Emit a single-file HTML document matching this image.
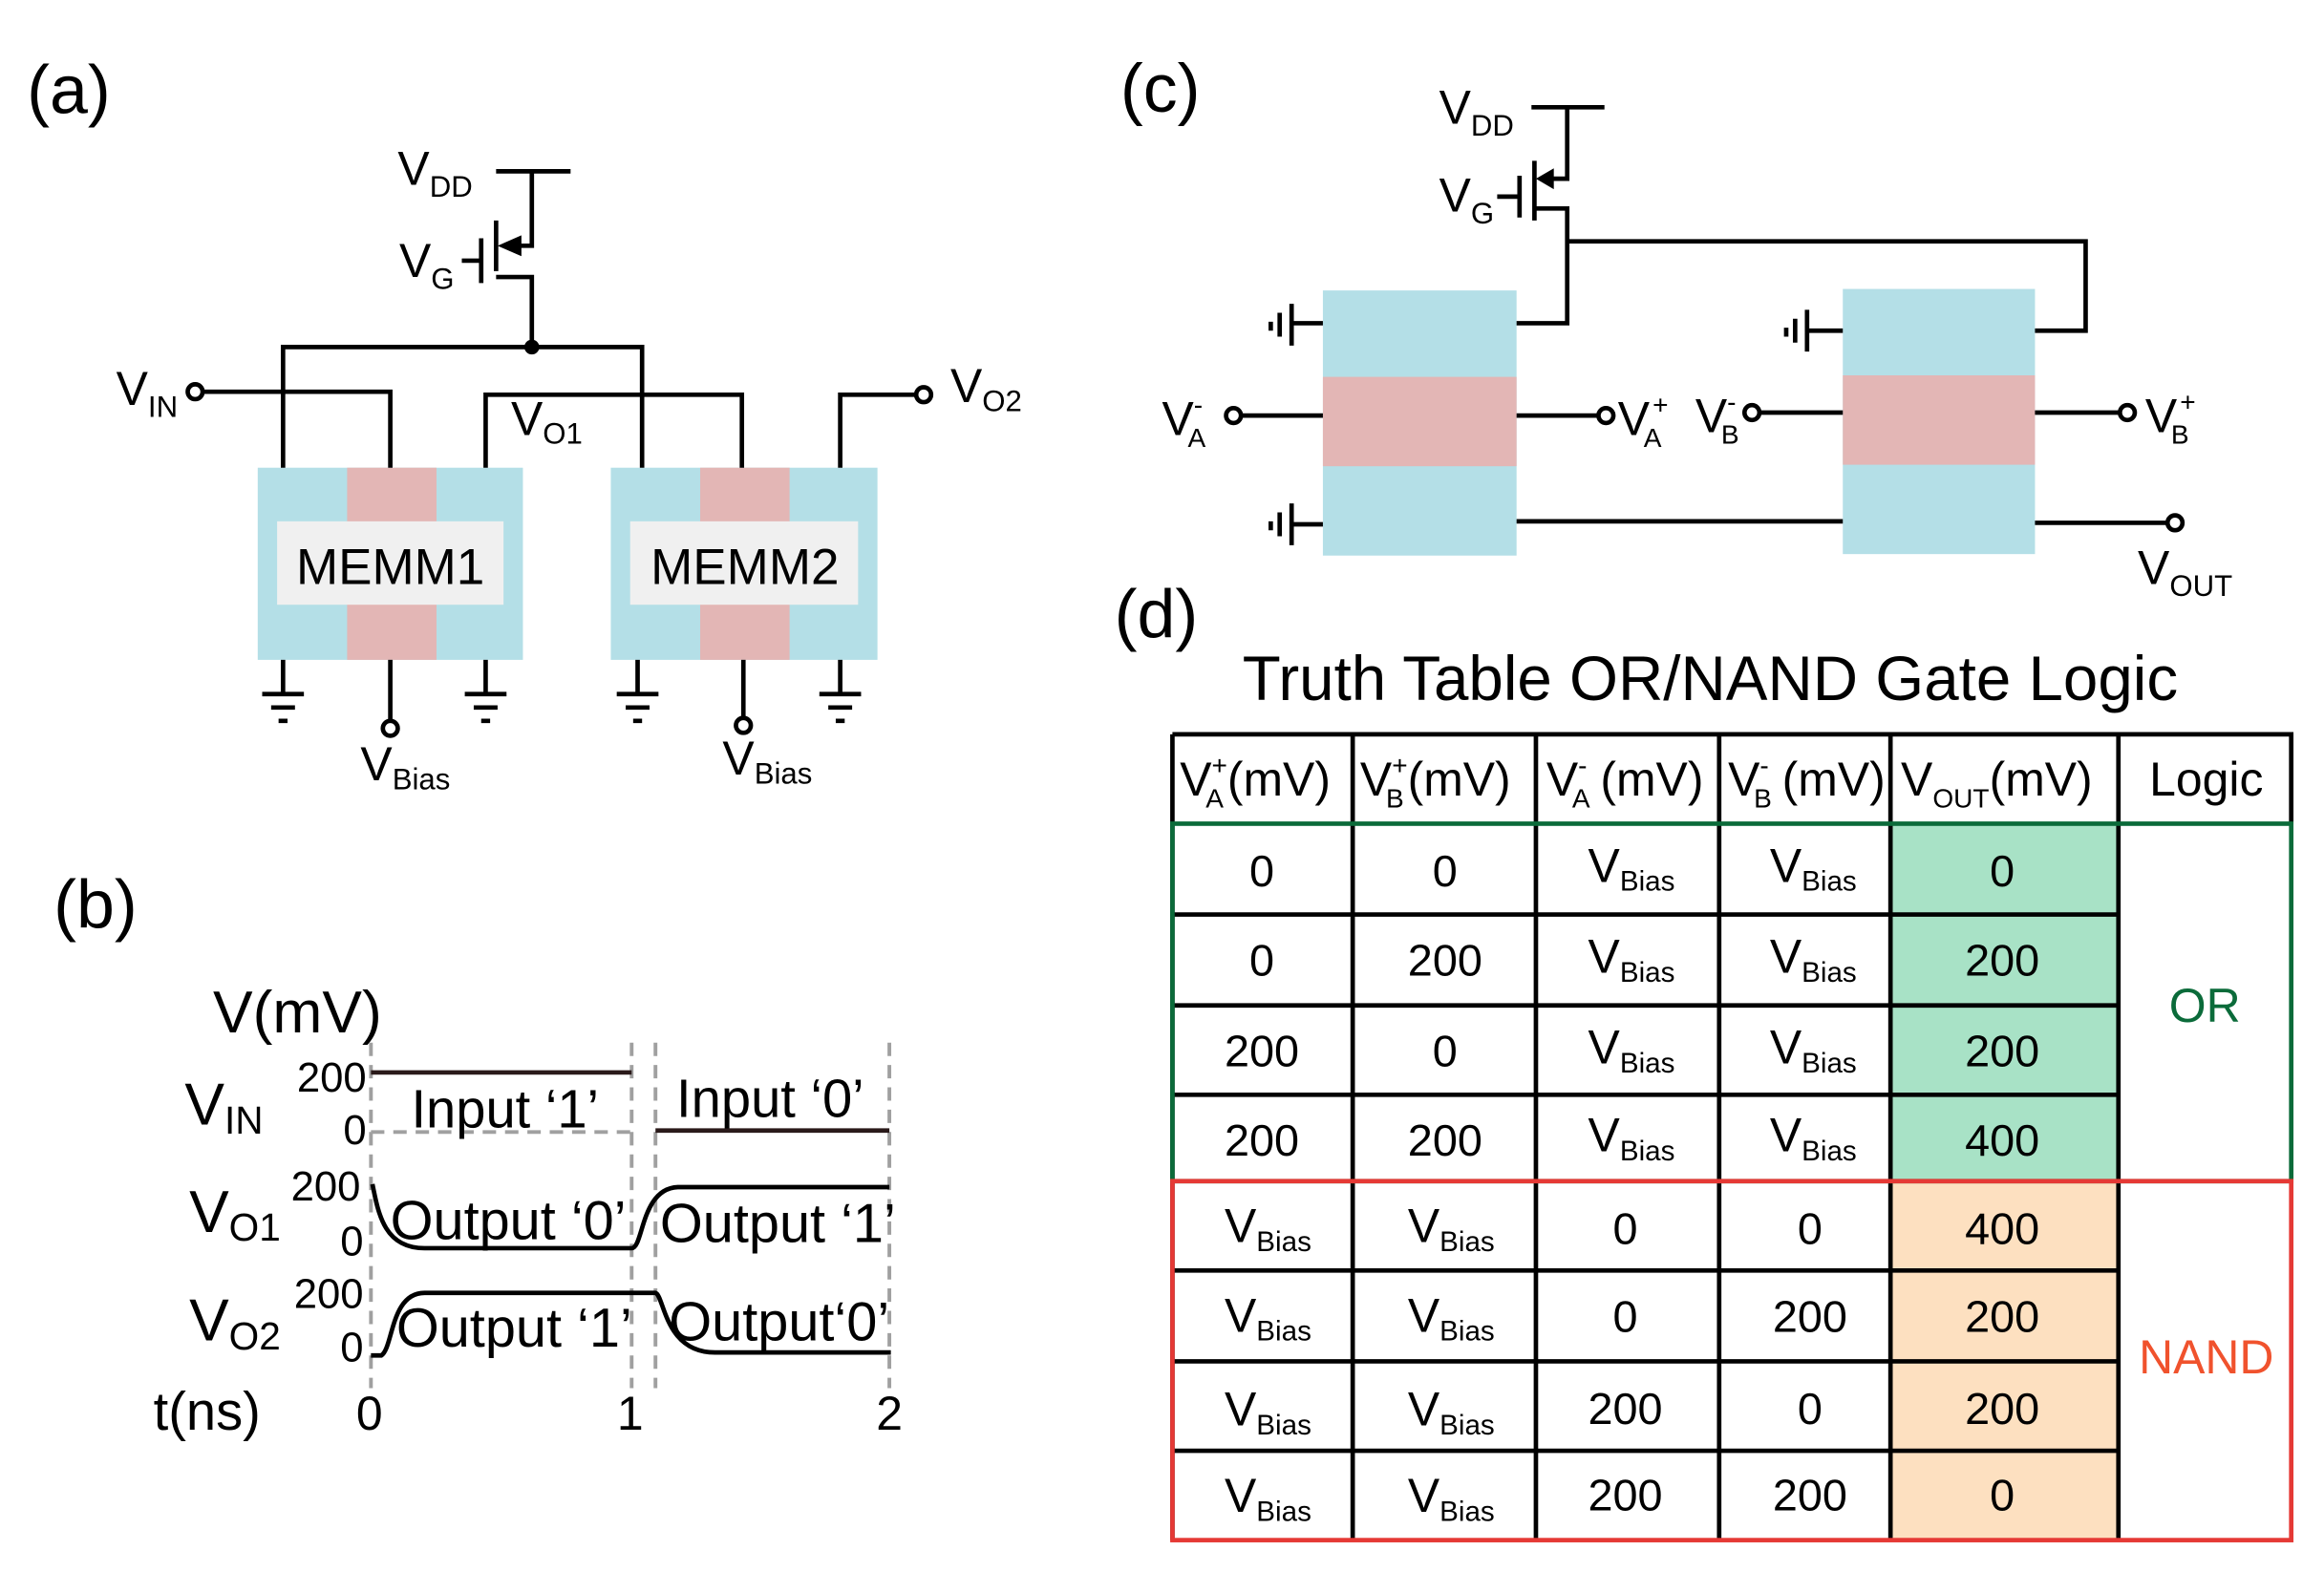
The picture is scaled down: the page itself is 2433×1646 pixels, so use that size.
<!DOCTYPE html>
<html><head><meta charset="utf-8"><style>
html,body{margin:0;padding:0;background:#fff;}
svg{display:block;}
text{font-family:"Liberation Sans Narrow","Liberation Sans",sans-serif;fill:#000;}
.w{font-family:"Liberation Sans",sans-serif;}
</style></head><body>
<svg width="2433" height="1646" viewBox="0 0 1560 1055.4" preserveAspectRatio="none" xmlns="http://www.w3.org/2000/svg">
<!-- (a) -->
<text x="18" y="76" font-size="46" class="w">(a)</text>
<rect x="173" y="314" width="178" height="129" fill="#b4dfe7"/>
<rect x="233" y="314" width="60" height="129" fill="#e3b6b5"/>
<rect x="186" y="350" width="152" height="56" fill="#f0f0f0"/>
<text x="262" y="392" font-size="34" text-anchor="middle" class="w">MEMM1</text>
<rect x="410" y="314" width="179" height="129" fill="#b4dfe7"/>
<rect x="470" y="314" width="60" height="129" fill="#e3b6b5"/>
<rect x="423" y="350" width="153" height="56" fill="#f0f0f0"/>
<text x="500" y="392" font-size="34" text-anchor="middle" class="w">MEMM2</text>
<g stroke="#000" stroke-width="3" fill="none">
<path d="M333 115H383M357 115V165H344M333 148V182M323 160V190M310 175H323M333 186H357V233M190 314V233H431V314"/>
<path d="M136 263H262V314M326 314V265H498V314M564 314V265H615"/>
<path d="M190 443V466M326 443V466M428 443V466M564 443V466M262 443V484M499 443V483"/>
<path d="M176 466H204M182 475H198M187 484H193M312 466H340M318 475H334M323 484H329M414 466H442M420 475H436M425 484H431M550 466H578M556 475H572M561 484H567"/>
<circle cx="131" cy="263" r="5" fill="#fff"/><circle cx="620" cy="265" r="5" fill="#fff"/>
<circle cx="262" cy="489" r="5" fill="#fff"/><circle cx="499" cy="487" r="5" fill="#fff"/>
</g>
<path d="M334 165L350 158V172Z" fill="#000"/>
<circle cx="357" cy="233" r="5" fill="#000"/>
<text x="267" y="124" font-size="32">V<tspan font-size="20" dy="8">DD</tspan></text>
<text x="268" y="186" font-size="32">V<tspan font-size="20" dy="8">G</tspan></text>
<text x="78" y="272" font-size="32">V<tspan font-size="20" dy="8">IN</tspan></text>
<text x="343" y="292" font-size="32">V<tspan font-size="20" dy="6">O1</tspan></text>
<text x="638" y="270" font-size="32">V<tspan font-size="20" dy="6">O2</tspan></text>
<text x="242" y="524" font-size="32">V<tspan font-size="20" dy="6">Bias</tspan></text>
<text x="485" y="520" font-size="32">V<tspan font-size="20" dy="6">Bias</tspan></text>

<!-- (b) -->
<text x="36" y="623" font-size="46" class="w">(b)</text>
<text x="143" y="693" font-size="40">V(mV)</text>
<text x="124" y="755" font-size="40">V<tspan font-size="26" dy="6">IN</tspan></text>
<text x="127" y="827" font-size="40">V<tspan font-size="26" dy="6">O1</tspan></text>
<text x="127" y="900" font-size="40">V<tspan font-size="26" dy="6">O2</tspan></text>
<text x="246" y="733" font-size="28" text-anchor="end">200</text>
<text x="246" y="768" font-size="28" text-anchor="end">0</text>
<text x="242" y="806" font-size="28" text-anchor="end">200</text>
<text x="244" y="843" font-size="28" text-anchor="end">0</text>
<text x="244" y="878" font-size="28" text-anchor="end">200</text>
<text x="244" y="914" font-size="28" text-anchor="end">0</text>
<text x="103" y="960" font-size="36">t(ns)</text>
<text x="248" y="960" font-size="32" text-anchor="middle">0</text>
<text x="423" y="960" font-size="32" text-anchor="middle">1</text>
<text x="597" y="960" font-size="32" text-anchor="middle">2</text>
<g stroke="#a0a0a0" stroke-width="2.5" stroke-dasharray="9,6" fill="none">
<path d="M249 700V932M424 700V932M440 700V932M597 700V932M249 760H424"/>
</g>
<g stroke="#000" stroke-width="3" fill="none">
<path d="M249 720H424M440 759H597" stroke="#2a1a1a"/>
<path d="M250 795C254 815 258 838 285 838H424C432 838 430 798 455 797H597"/>
<path d="M249 910H256C264 905 262 868 285 868H440C446 870 446 908 480 908H598"/>
</g>
<text x="276" y="757" font-size="36">Input ‘1’</text>
<text x="454" y="750" font-size="36">Input ‘0’</text>
<text x="262" y="832" font-size="37">Output ‘0’</text>
<text x="443" y="834" font-size="37">Output ‘1’</text>
<text x="266" y="904" font-size="37">Output ‘1’</text>
<text x="449" y="900" font-size="37">Output‘0’</text>

<!-- (c) -->
<text x="752" y="75" font-size="46" class="w">(c)</text>
<rect x="888" y="195" width="130" height="178" fill="#b4dfe7"/>
<rect x="888" y="253" width="130" height="60" fill="#e3b6b5"/>
<rect x="1237" y="194" width="129" height="178" fill="#b4dfe7"/>
<rect x="1237" y="252" width="129" height="60" fill="#e3b6b5"/>
<g stroke="#000" stroke-width="3" fill="none">
<path d="M1028 72H1077M1052 72V120H1040M1030 108V148M1020 118V146M1005 132H1020M1030 140H1052V217H1018M1052 162H1400V222H1366"/>
<path d="M867 204V232M859 210V226M853 216V222M867 217H888"/>
<path d="M867 338V366M859 344V360M853 350V356M867 352H888"/>
<path d="M1213 208V236M1205 214V230M1199 220V226M1213 222H1237"/>
<path d="M833 279H888M1018 279H1073M1181 277H1237M1366 277H1422M1018 350H1237M1366 351H1455"/>
<circle cx="828" cy="279" r="5" fill="#fff"/><circle cx="1078" cy="279" r="5" fill="#fff"/>
<circle cx="1176" cy="277" r="5" fill="#fff"/><circle cx="1428" cy="277" r="5" fill="#fff"/>
<circle cx="1460" cy="351" r="5" fill="#fff"/>
</g>
<path d="M1031 120L1043 113V127Z" fill="#000"/>
<text x="966" y="83" font-size="32">V<tspan font-size="20" dy="8">DD</tspan></text>
<text x="966" y="142" font-size="32">V<tspan font-size="20" dy="8">G</tspan></text>
<text x="780" y="292" font-size="32">V<tspan font-size="18" dx="-4" dy="8">A</tspan><tspan font-size="18" dx="-8" dy="-22">-</tspan></text>
<text x="1086" y="292" font-size="32">V<tspan font-size="18" dx="-4" dy="8">A</tspan><tspan font-size="18" dx="-6" dy="-22">+</tspan></text>
<text x="1138" y="290" font-size="32">V<tspan font-size="18" dx="-4" dy="8">B</tspan><tspan font-size="18" dx="-8" dy="-22">-</tspan></text>
<text x="1440" y="290" font-size="32">V<tspan font-size="18" dx="-4" dy="8">B</tspan><tspan font-size="18" dx="-6" dy="-22">+</tspan></text>
<text x="1435" y="392" font-size="32">V<tspan font-size="20" dy="8">OUT</tspan></text>

<!-- (d) -->
<text x="748" y="428" font-size="46" class="w">(d)</text>
<text x="1148" y="470" font-size="42" text-anchor="middle">Truth Table OR/NAND Gate Logic</text>
<rect x="1269" y="553" width="153" height="240" fill="#a8e2c6"/>
<rect x="1269" y="793" width="153" height="241" fill="#fde0c0"/>
<g stroke="#000" stroke-width="3" fill="none">
<path d="M787 493H1538V553M787 493V1034M908 493V1034M1031 493V1034M1154 493V1034M1269 493V1034M1422 493V1034"/>
<path d="M787 614H1422M787 675H1422M787 735H1422M787 853H1422M787 914H1422M787 974H1422"/>
</g>
<rect x="787" y="553" width="751" height="240" stroke="#0b6b3a" stroke-width="3" fill="none"/>
<rect x="787" y="793" width="751" height="241" stroke="#e53935" stroke-width="3" fill="none"/>
<g font-size="32">
<text x="792" y="534">V<tspan font-size="18" dx="-4" dy="8">A</tspan><tspan font-size="18" dx="-8" dy="-22">+</tspan><tspan dy="14">(mV)</tspan></text>
<text x="913" y="534">V<tspan font-size="18" dx="-4" dy="8">B</tspan><tspan font-size="18" dx="-8" dy="-22">+</tspan><tspan dy="14">(mV)</tspan></text>
<text x="1038" y="534">V<tspan font-size="18" dx="-4" dy="8">A</tspan><tspan font-size="18" dx="-8" dy="-22">-</tspan><tspan dy="14"> (mV)</tspan></text>
<text x="1160" y="534">V<tspan font-size="18" dx="-4" dy="8">B</tspan><tspan font-size="18" dx="-8" dy="-22">-</tspan><tspan dy="14"> (mV)</tspan></text>
<text x="1276" y="534">V<tspan font-size="18" dy="8">OUT</tspan><tspan dy="-8">(mV)</tspan></text>
<text x="1481" y="534" text-anchor="middle">Logic</text>
</g>
<g font-size="30" text-anchor="middle">
<text x="847" y="595">0</text><text x="970" y="595">0</text><text x="1344" y="595">0</text>
<text x="847" y="655">0</text><text x="970" y="655">200</text><text x="1344" y="655">200</text>
<text x="847" y="716">200</text><text x="970" y="716">0</text><text x="1344" y="716">200</text>
<text x="847" y="776">200</text><text x="970" y="776">200</text><text x="1344" y="776">400</text>
<text x="1091" y="835">0</text><text x="1215" y="835">0</text><text x="1344" y="835">400</text>
<text x="1091" y="894">0</text><text x="1215" y="894">200</text><text x="1344" y="894">200</text>
<text x="1091" y="956">200</text><text x="1215" y="956">0</text><text x="1344" y="956">200</text>
<text x="1091" y="1014">200</text><text x="1215" y="1014">200</text><text x="1344" y="1014">0</text>
</g>
<g font-size="32">
<text x="1066" y="592">V<tspan font-size="19" dy="6">Bias</tspan></text><text x="1188" y="592">V<tspan font-size="19" dy="6">Bias</tspan></text>
<text x="1066" y="653">V<tspan font-size="19" dy="6">Bias</tspan></text><text x="1188" y="653">V<tspan font-size="19" dy="6">Bias</tspan></text>
<text x="1066" y="714">V<tspan font-size="19" dy="6">Bias</tspan></text><text x="1188" y="714">V<tspan font-size="19" dy="6">Bias</tspan></text>
<text x="1066" y="773">V<tspan font-size="19" dy="6">Bias</tspan></text><text x="1188" y="773">V<tspan font-size="19" dy="6">Bias</tspan></text>
<text x="822" y="834">V<tspan font-size="19" dy="6">Bias</tspan></text><text x="945" y="834">V<tspan font-size="19" dy="6">Bias</tspan></text>
<text x="822" y="894">V<tspan font-size="19" dy="6">Bias</tspan></text><text x="945" y="894">V<tspan font-size="19" dy="6">Bias</tspan></text>
<text x="822" y="957">V<tspan font-size="19" dy="6">Bias</tspan></text><text x="945" y="957">V<tspan font-size="19" dy="6">Bias</tspan></text>
<text x="822" y="1015">V<tspan font-size="19" dy="6">Bias</tspan></text><text x="945" y="1015">V<tspan font-size="19" dy="6">Bias</tspan></text>
</g>
<text x="1480" y="686" font-size="32" text-anchor="middle" style="fill:#0b6b3a">OR</text>
<text x="1481" y="922" font-size="32" text-anchor="middle" style="fill:#f0522d">NAND</text>
</svg>
</body></html>
